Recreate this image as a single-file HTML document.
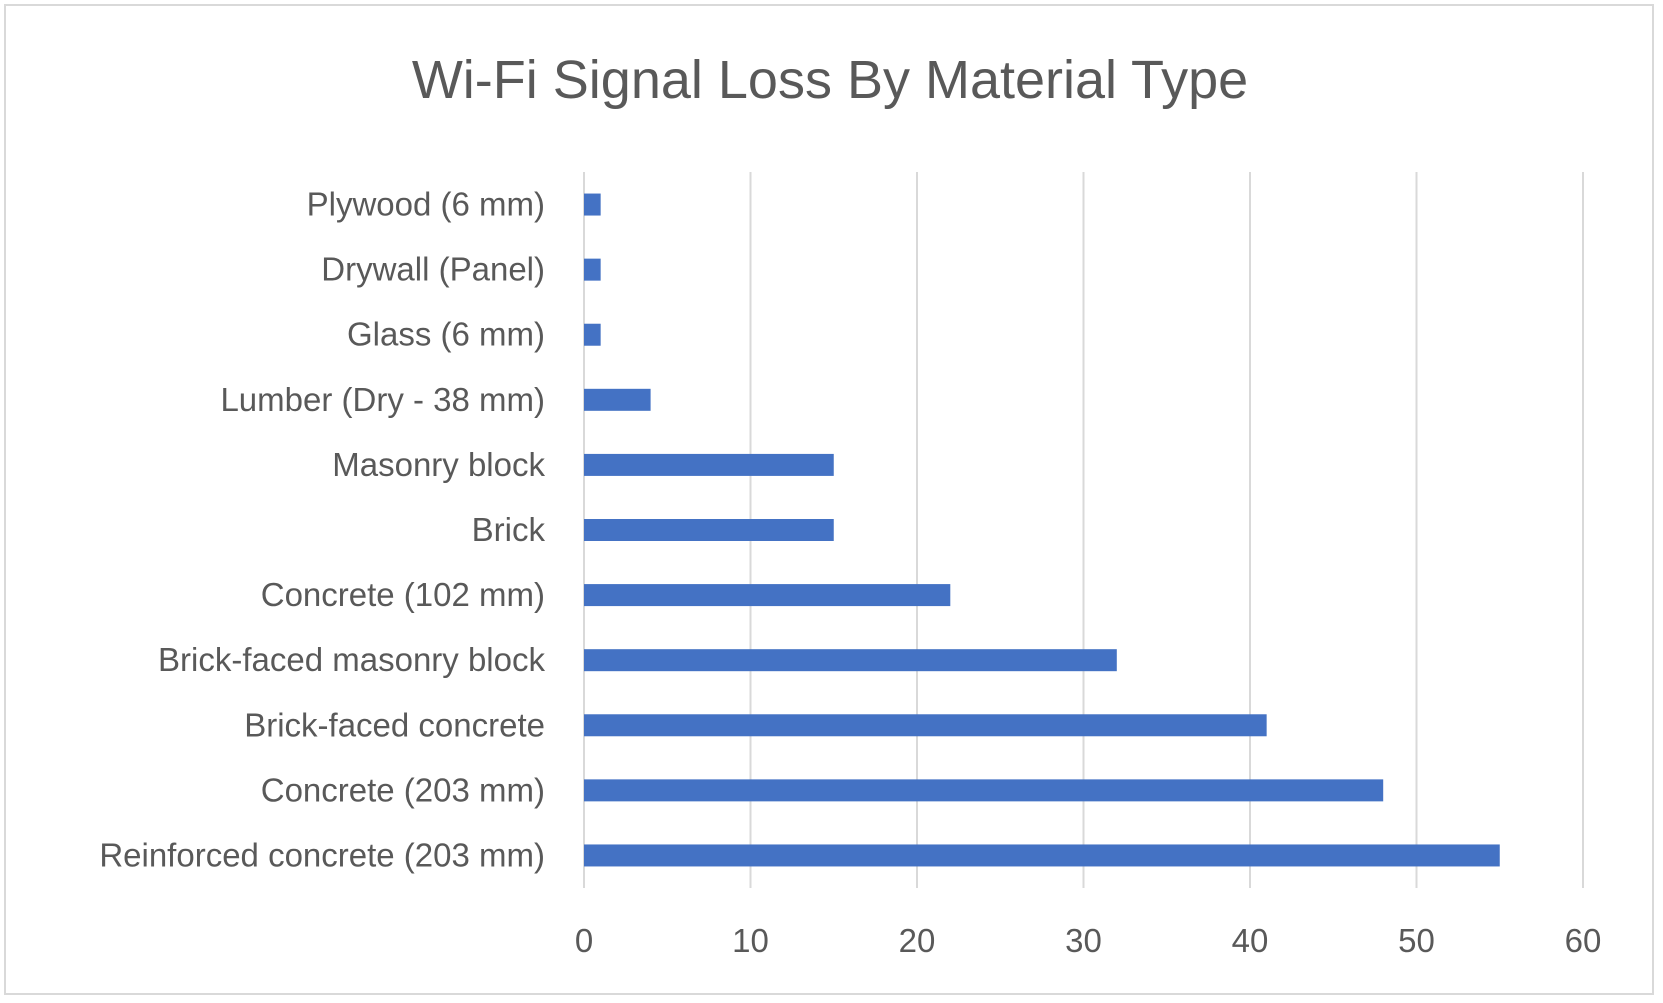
<!DOCTYPE html>
<html><head><meta charset="utf-8"><style>
html,body{margin:0;padding:0;background:#fff}
svg{display:block;font-family:"Liberation Sans",sans-serif}
</style></head><body>
<svg id="chart" width="1663" height="1003">
<rect x="5" y="5" width="1648" height="989" fill="#fff" stroke="#d9d9d9" stroke-width="2"/>
<text x="830" y="98" text-anchor="middle" font-size="54" fill="#595959">Wi-Fi Signal Loss By Material Type</text>
<g id="grid"></g><g id="bars"></g><g id="ylabels"></g><g id="xlabels"></g>
</svg>
<script>
const categories = ["Plywood (6 mm)","Drywall (Panel)","Glass (6 mm)","Lumber (Dry - 38 mm)","Masonry block","Brick","Concrete (102 mm)","Brick-faced masonry block","Brick-faced concrete","Concrete (203 mm)","Reinforced concrete (203 mm)"];
const values = [1,1,1,4,15,15,22,32,41,48,55];
const xTicks = [0,10,20,30,40,50,60];
const NS="http://www.w3.org/2000/svg";
const x0=584,x1=1583,xMax=60,plotTop=172,plotBottom=888;
const band=(plotBottom-plotTop)/categories.length;
function xs(v){return x0+(x1-x0)*v/xMax;}
function yc(i){return plotTop+band*(i+0.5);}
function mk(tag,attrs,parent){const e=document.createElementNS(NS,tag);for(const k in attrs)e.setAttribute(k,attrs[k]);document.getElementById(parent).appendChild(e);return e;}
xTicks.forEach(t=>{
  const l=mk('line',{x1:xs(t),x2:xs(t),y1:plotTop,y2:plotBottom,stroke:'#d9d9d9','stroke-width':2},'grid');
  
  
  const tx=mk('text',{x:xs(t),y:952,'text-anchor':'middle','font-size':33,fill:'#595959'},'xlabels');
  tx.textContent=t;
  
  
});
categories.forEach((c,i)=>{
  const h=22;
  const r=mk('rect',{x:x0,y:yc(i)-h/2,width:xs(values[i])-x0,height:h,fill:'#4472c4'},'bars');
  
  
  const t=mk('text',{x:545,y:yc(i)+11,'text-anchor':'end','font-size':33,fill:'#595959'},'ylabels');
  t.textContent=c;
  
  
});
</script>
</body></html>
